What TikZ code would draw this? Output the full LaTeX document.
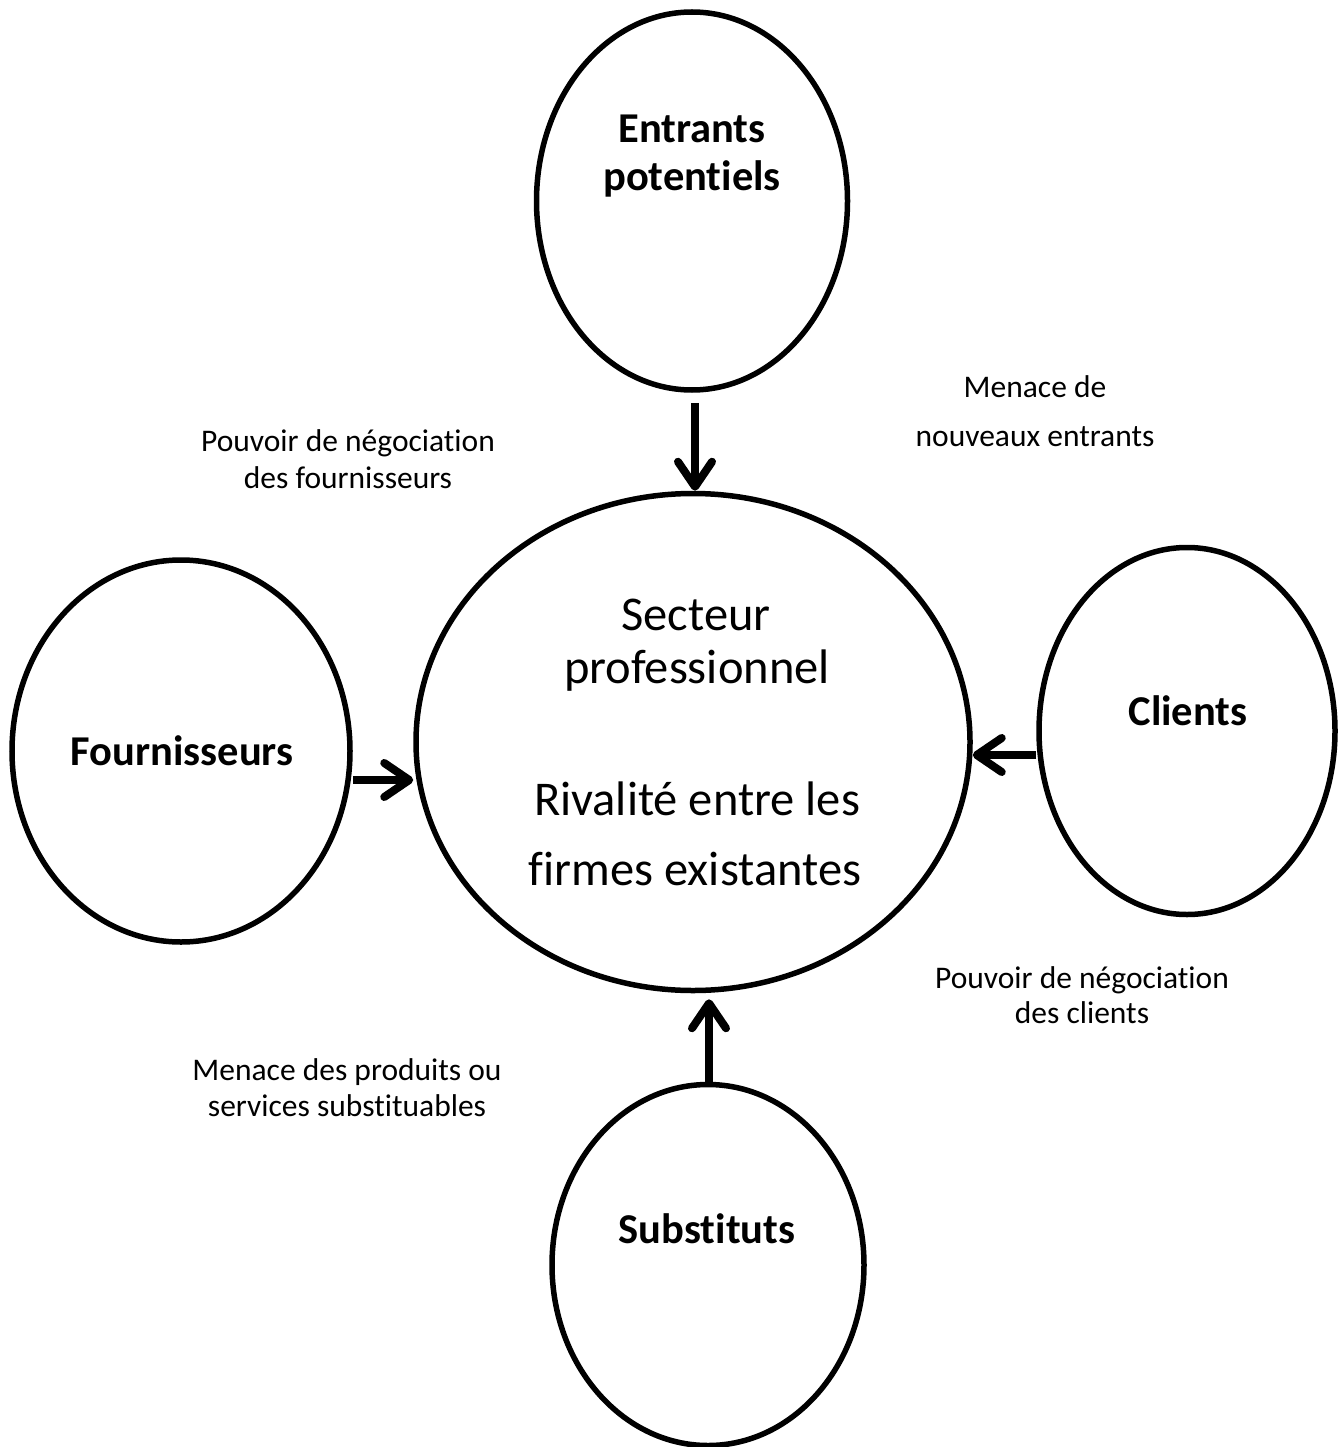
\documentclass[tikz,border=0pt]{standalone}
\usepackage{fontspec}
\setmainfont{Carlito}[Ligatures={NoCommon,NoRare}]
\usetikzlibrary{shapes.geometric,arrows.meta}
\begin{document}
\begin{tikzpicture}[x=1pt,y=-1pt,
  oval/.style={ellipse,draw,line width=5.5pt,inner sep=0pt},
  force/.style={line width=8pt,-{Straight Barb[length=25pt,width=34pt,round]}},
  small/.style={anchor=base,font=\fontsize{31.5}{38}\selectfont,inner sep=0pt},
  big/.style={anchor=base,font=\fontsize{42.5}{51}\selectfont\bfseries,inner sep=0pt},
  mid/.style={anchor=base,font=\fontsize{48.5}{58}\selectfont,inner sep=0pt}]
\fill[white] (0,0) rectangle (1341,1447);
\useasboundingbox (0,0) rectangle (1341,1447);
% ellipses
\node[oval,minimum width=311pt,minimum height=378pt] (ent) at (692,201) {};
\node[oval,minimum width=554pt,minimum height=497pt] (cen) at (693,742) {};
\node[oval,minimum width=338pt,minimum height=382pt] (fou) at (181,751) {};
\node[oval,minimum width=296pt,minimum height=367pt] (cli) at (1187,731) {};
\node[oval,minimum width=312pt,minimum height=361pt] (sub) at (708,1265) {};
% texts in ellipses
\node[big] (t1) at (692,143) {Entrants};
\node[big] (t2) at (692,191) {potentiels};
\node[big] (t3) at (182,765) {Fournisseurs};
\node[big] (t4) at (1188,725) {Clients};
\node[big] (t5) at (707,1243) {Substituts};
\node[mid] (c1) at (696,630) {Secteur};
\node[mid] (c2) at (697,683) {professionnel};
\node[mid] (c3) at (697,815) {Rivalité entre les};
\node[mid] (c4) at (695,885) {firmes existantes};
% labels
\node[small] (l1) at (348,451) {Pouvoir de négociation};
\node[small] (l2) at (348,488) {des fournisseurs};
\node[small] (l3) at (1035,397) {Menace de};
\node[small] (l4) at (1035,446) {nouveaux entrants};
\node[small] (l5) at (1082,988) {Pouvoir de négociation};
\node[small] (l6) at (1082,1023) {des clients};
\node[small] (l7) at (347,1080) {Menace des produits ou};
\node[small] (l8) at (347,1116) {services substituables};
% arrows
\draw[force] ([xshift=3pt,yshift=-10pt]ent.south) -- ([xshift=2pt]cen.north);
\draw[force] ([yshift=-29pt]fou.east) -- ([yshift=-29pt]fou.east -| cen.west);
\draw[force] ([yshift=-24pt]cli.west) -- ([yshift=-24pt]cli.west -| cen.east);
\draw[force] ([xshift=1pt]sub.north) -- ([xshift=1pt,yshift=-6pt]sub.north |- cen.south);
\end{tikzpicture}
\end{document}
